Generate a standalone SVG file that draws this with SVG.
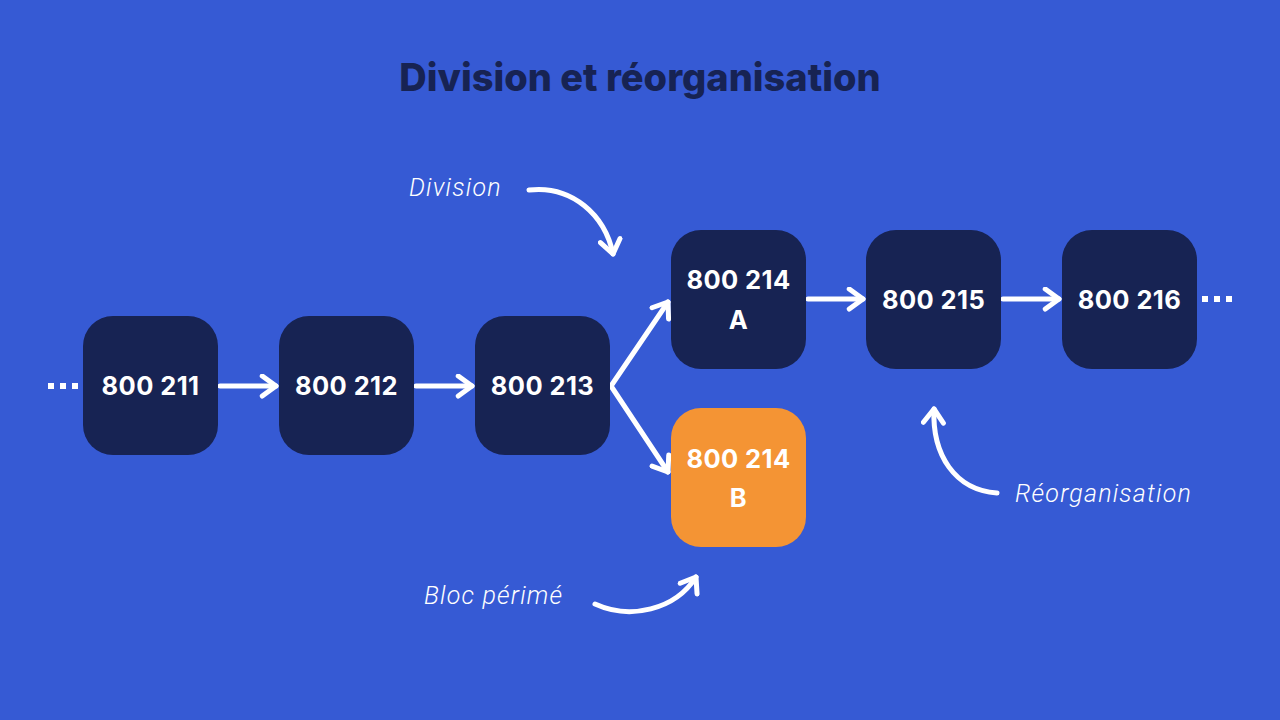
<svg xmlns="http://www.w3.org/2000/svg" width="1280" height="720" viewBox="0 0 1280 720">
<defs>
<style>
.bg{fill:#365ad4}
.node{fill:#172353}
.stale{fill:#f49434}
.lbl{font-family:Inter,"Liberation Sans",sans-serif;font-weight:700;font-size:25.5px;letter-spacing:0.4px;fill:#ffffff;text-anchor:middle}
.title{font-family:Inter,"Liberation Sans",sans-serif;font-weight:800;font-size:38px;fill:#172353;text-anchor:middle}
.note{font-family:Roboto,"Liberation Sans",sans-serif;font-weight:300;font-style:italic;font-size:25px;letter-spacing:1.2px;fill:#ffffff}
.ln{fill:none;stroke:#ffffff;stroke-width:5;stroke-linecap:round;stroke-linejoin:round}
.dot{fill:#ffffff}
</style>
<marker id="chev" viewBox="0 0 20 20" refX="15" refY="10" markerWidth="5" markerHeight="5" markerUnits="strokeWidth" orient="auto">
<path d="M4,2 L15,10 L4,18" fill="none" stroke="#ffffff" stroke-width="4" stroke-linecap="round" stroke-linejoin="round"/>
</marker>
</defs>
<rect class="bg" x="0" y="0" width="1280" height="720"/>
<text class="title" x="640" y="91">Division et réorganisation</text>

<g id="connectors">
<line class="ln" x1="220" y1="386" x2="276" y2="386" marker-end="url(#chev)"/>
<line class="ln" x1="416" y1="386" x2="472" y2="386" marker-end="url(#chev)"/>
<line class="ln" x1="611" y1="386" x2="668" y2="302" marker-end="url(#chev)"/>
<line class="ln" x1="611" y1="386" x2="668" y2="472" marker-end="url(#chev)"/>
<line class="ln" x1="808" y1="299" x2="863" y2="299" marker-end="url(#chev)"/>
<line class="ln" x1="1003" y1="299" x2="1059" y2="299" marker-end="url(#chev)"/>
<path class="ln" d="M529,190 C572,185 605,215 613,254" marker-end="url(#chev)"/>
<path class="ln" d="M595,604 C630,620 675,610 696,577" marker-end="url(#chev)"/>
<path class="ln" d="M997,493 C955,490 932,455 934,409" marker-end="url(#chev)"/>
</g>

<g id="dots-left">
<rect class="dot" x="48" y="383" width="6" height="6"/>
<rect class="dot" x="60" y="383" width="6" height="6"/>
<rect class="dot" x="72" y="383" width="6" height="6"/>
</g>
<g id="dots-right">
<rect class="dot" x="1202" y="296" width="6" height="6"/>
<rect class="dot" x="1214" y="296" width="6" height="6"/>
<rect class="dot" x="1226" y="296" width="6" height="6"/>
</g>

<g id="n211"><rect class="node" x="83" y="316" width="135" height="139" rx="30"/><text class="lbl" x="150.5" y="395">800 211</text></g>
<g id="n212"><rect class="node" x="279" y="316" width="135" height="139" rx="30"/><text class="lbl" x="346.5" y="395">800 212</text></g>
<g id="n213"><rect class="node" x="475" y="316" width="135" height="139" rx="30"/><text class="lbl" x="542.5" y="395">800 213</text></g>
<g id="n214a"><rect class="node" x="671" y="230" width="135" height="139" rx="30"/><text class="lbl" x="738.5" y="289">800 214</text><text class="lbl" x="738.5" y="329">A</text></g>
<g id="n214b"><rect class="stale" x="671" y="408" width="135" height="139" rx="30"/><text class="lbl" x="738.5" y="468">800 214</text><text class="lbl" x="738.5" y="507">B</text></g>
<g id="n215"><rect class="node" x="866" y="230" width="135" height="139" rx="30"/><text class="lbl" x="933.5" y="309">800 215</text></g>
<g id="n216"><rect class="node" x="1062" y="230" width="135" height="139" rx="30"/><text class="lbl" x="1129.5" y="309">800 216</text></g>

<g id="notes">
<text class="note" x="409" y="196">Division</text>
<text class="note" x="424" y="604">Bloc périmé</text>
<text class="note" x="1015" y="502">Réorganisation</text>
</g>
</svg>
